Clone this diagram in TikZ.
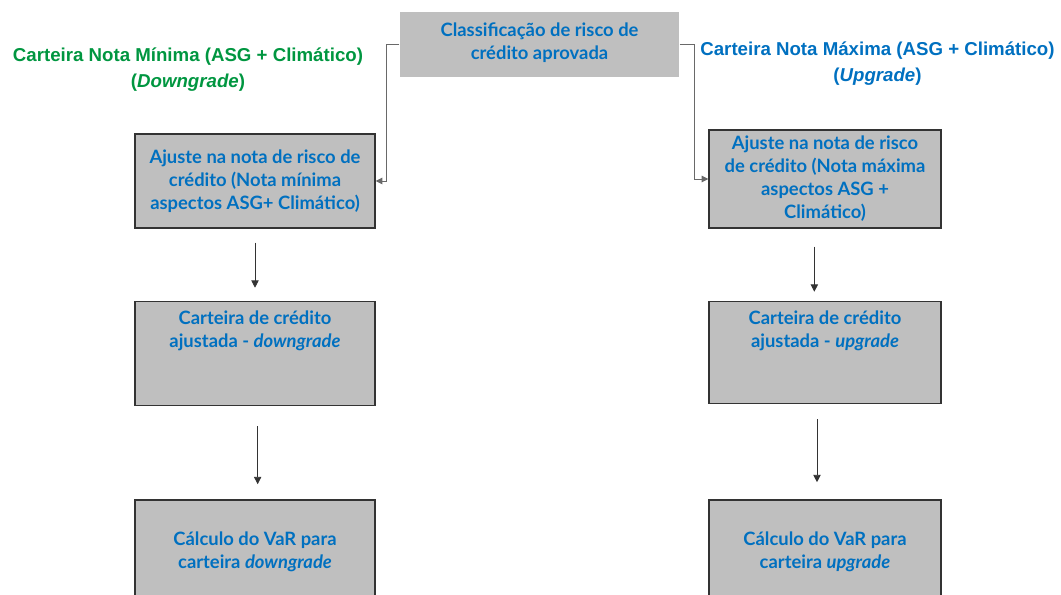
\documentclass[tikz,border=0pt]{standalone}
\usepackage{fontspec}
\setmainfont{Lato}
\newfontfamily\headfont{Liberation Sans}
\usepackage{tikz}
\usetikzlibrary{arrows.meta}
\usetikzlibrary{positioning}
\usepackage{xcolor}
\definecolor{stageblue}{RGB}{0,112,192}
\definecolor{stagegray}{RGB}{191,191,191}
\definecolor{mingreen}{RGB}{0,150,64}
\definecolor{linkgray}{RGB}{105,105,105}
\newcommand{\widthleft}{180pt}
\newcommand{\widthright}{174pt}
\newcommand{\gapstage}{54pt}
\tikzset{
    stagetext/.style={text=stageblue, font=\fontsize{13.8}{17.25}\selectfont\bfseries, align=center},
    stage/.style={stagetext, draw=black!80, line width=1.1pt, fill=stagegray, inner sep=2pt},
    topstage/.style={stage, draw=none, minimum width=209.25pt, minimum height=48.75pt, text depth=5pt},
    toplabel/.style={label={[stagetext, anchor=north, inner sep=0pt, yshift=-7pt]north:{#1}}},
    heading/.style={font=\headfont\fontsize{14}{19.5}\selectfont\bfseries, align=center},
    link/.style={draw=linkgray, line width=0.7pt, -{Triangle[length=5pt, width=5pt]}},
    flow/.style={draw=black!80, line width=0.6pt, -{Triangle[length=5.5pt, width=5.5pt]}},
}
\begin{document}
\begin{tikzpicture}[x=0.75pt, y=-0.75pt]
    \path[use as bounding box, clip] (0,0) rectangle (1061,595);

    \node[topstage] (rating) at (539.5,44.5) {Classificação de risco de\\crédito aprovada};

    \node[heading, text=mingreen] (min-title) at (188,70) {Carteira Nota Mínima (ASG + Climático)\\(\textit{Downgrade})};
    \node[heading, text=stageblue] (max-title) at (877.5,63.5) {Carteira Nota Máxima (ASG + Climático)\\(\textit{Upgrade})};

    % lado da nota minima
    \node[stage, minimum width=\widthleft, minimum height=70.5pt] (min-adjust) at (255,181)
        {Ajuste na nota de risco de\\crédito (Nota mínima\\aspectos ASG+ Climático)};
    \node[stage, minimum width=\widthleft, minimum height=78pt, below=\gapstage of min-adjust,
        toplabel={Carteira de crédito\\ajustada - \textit{downgrade}}] (min-portfolio) {};
    \node[stage, minimum width=\widthleft, minimum height=78pt, below=69.75pt of min-portfolio] (min-var)
        {Cálculo do VaR para\\carteira \textit{downgrade}};

    % lado da nota maxima
    \node[stage, minimum width=\widthright, minimum height=73.5pt] (max-adjust) at (825,179)
        {Ajuste na nota de risco\\de crédito (Nota máxima\\aspectos ASG +\\Climático)};
    \node[stage, minimum width=\widthright, minimum height=76.5pt, below=\gapstage of max-adjust,
        toplabel={Carteira de crédito\\ajustada - \textit{upgrade}}] (max-portfolio) {};
    \node[stage, minimum width=\widthright, minimum height=78pt, below=71.25pt of max-portfolio] (max-var)
        {Cálculo do VaR para\\carteira \textit{upgrade}};

    \draw[link] (rating.west) -- ++(-13,0) |- (min-adjust.east);
    \draw[link] (rating.east) -- ++(15,0) |- (max-adjust.west);

    \draw[flow, shorten <=10.5pt, shorten >=9.75pt] (min-adjust) -- (min-portfolio);
    \draw[flow, shorten <=15pt, shorten >=11.25pt] ([xshift=2pt]min-portfolio.south) -- ([xshift=2pt]min-var.north);
    \draw[flow, shorten <=13.5pt, shorten >=6.75pt] ([xshift=-8pt]max-adjust.south) -- ([xshift=-8pt]max-portfolio.north);
    \draw[flow, shorten <=11.25pt, shorten >=12.75pt] ([xshift=-6pt]max-portfolio.south) -- ([xshift=-6pt]max-var.north);
\end{tikzpicture}
\end{document}
